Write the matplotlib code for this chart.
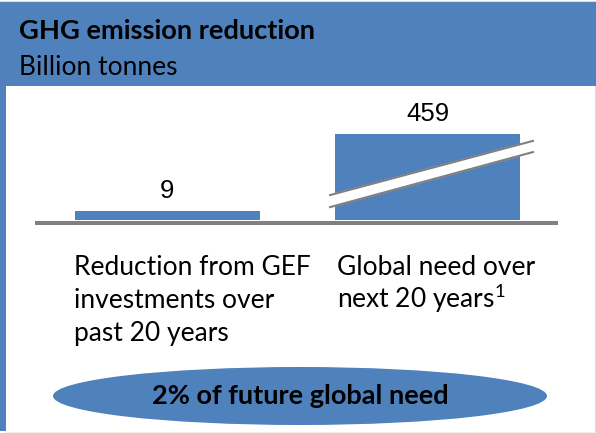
import matplotlib
matplotlib.use("Agg")
import matplotlib.pyplot as plt
import matplotlib.patches as mpatches

# data
categories = [["Reduction from GEF", "investments over", "past 20 years"],
              ["Global need over", "next 20 years$^{1}$"]]
values = [9, 459]
value_labels = ["9", "459"]
title = "GHG emission reduction"
subtitle = "Billion tonnes"
callout = "2% of future global need"

blue = "#4F81BD"
gray = "#808080"
font = ["Lato", "DejaVu Sans"]
plt.rcParams["mathtext.fontset"] = "custom"
plt.rcParams["mathtext.rm"] = "Lato"
plt.rcParams["mathtext.it"] = "Lato"
plt.rcParams["mathtext.default"] = "rm"

fig = plt.figure(figsize=(5.96, 4.33), dpi=100)

# background panel in pixel coords
bg = fig.add_axes([0, 0, 1, 1])
bg.set_xlim(0, 596)
bg.set_ylim(433, 0)
bg.axis("off")
bg.add_patch(mpatches.Rectangle((0, 2), 596, 84, color=blue, lw=0))
bg.add_patch(mpatches.Rectangle((0, 86), 6, 345, color=blue, lw=0))
bg.plot([594.5, 594.5], [86, 431.5], color="#D9D9D9", lw=0.8)
bg.plot([6, 594.5], [431.5, 431.5], color="#EEEEEE", lw=0.8)
bg.plot([0, 596], [1, 1], color="#D9D9D9", lw=0.8)

bg.text(19, 39, title, fontsize=19.6, fontweight="bold", family=font, va="baseline")
bg.text(19, 75, subtitle, fontsize=19, family=font, va="baseline")

# category labels
label_x = [74, 337]
for cx, lines in zip(label_x, categories):
    for i, line in enumerate(lines):
        bg.text(cx, 275 + 33 * i, line, fontsize=19, family=font, va="baseline")

# callout ellipse
bg.add_patch(mpatches.Ellipse((300, 396), 494, 58, color=blue, lw=0))
bg.text(300, 404, callout, fontsize=19.5, fontweight="bold", family=font,
        ha="center", va="baseline")

# bars
ax = fig.add_axes([35 / 596, (433 - 225) / 433, 523 / 596, 125 / 433])
ax.patch.set_alpha(0)
ax.axis("off")
ax.set_xlim(-0.507, 1.501)
ax.set_ylim(-5, 120)

cap = 86  # broken-axis display height
shown = [min(v, cap) for v in values]
x = list(range(len(values)))
ax.bar(x, shown, width=0.71, color=blue, zorder=2)
ax.axhline(-2.5, color=gray, lw=3.6, zorder=3)

for xi, h, lab in zip(x, shown, value_labels):
    ax.annotate(lab, (xi, h), xytext=(0, 9.5), textcoords="offset points",
                ha="center", va="baseline", fontsize=18.5,
                family=["Liberation Sans", "DejaVu Sans"])

# break marks on the tall bar
for xi, v in zip(x, values):
    if v > cap:
        xl, xr = xi - 0.374, xi + 0.405
        up = (cap * 0.29, cap * 0.92)
        lo = (cap * 0.15, cap * 0.79)
        ax.fill([xl, xr, xr, xl], [up[0], up[1], lo[1], lo[0]],
                color="white", zorder=4, clip_on=False)
        ax.plot([xl, xr], up, color=gray, lw=1.5, zorder=5, clip_on=False)
        ax.plot([xl, xr], lo, color=gray, lw=1.5, zorder=5, clip_on=False)

fig.savefig("out.png", dpi=100)
